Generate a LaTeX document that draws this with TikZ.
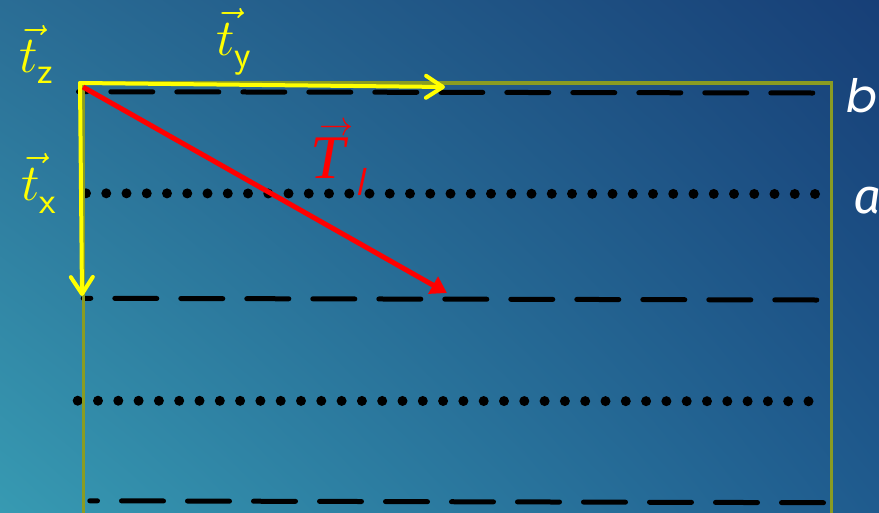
\RequirePackage{fix-cm}
\documentclass[tikz,border=0pt]{standalone}
\usepackage{fontspec}
\newfontfamily\gothic{Poppins}
\newfontfamily\firaf{Fira Sans}
\newfontfamily\timesf{Liberation Serif}
\usetikzlibrary{arrows.meta,shadings}
\definecolor{bgUL}{HTML}{2A6D95}
\definecolor{bgUR}{HTML}{173F77}
\definecolor{bgLL}{HTML}{379AB2}
\definecolor{bgLR}{HTML}{1F5B8E}
\definecolor{framegreen}{HTML}{8A9C22}
\definecolor{tyellow}{HTML}{FFFF00}
\definecolor{tred}{HTML}{FF0000}
\begin{document}
\begin{tikzpicture}[x=1pt,y=-1pt,
  dashline/.style={draw=black,line width=5pt,line cap=round,dash pattern=on 42pt off 24pt},
  dotline/.style={draw=black,line width=10pt,line cap=round},
  frame/.style={draw=framegreen,line width=3.5pt},
  yarrow/.style={draw=tyellow,line width=4pt,line cap=round,-{Straight Barb[length=17pt,width=22pt,round]}},
  rarrow/.style={draw=tred,line width=5pt,-{Triangle[length=16pt,width=19pt]}},
  ylab/.style={text=tyellow,inner sep=0pt,anchor=base west},
  wlab/.style={text=white,inner sep=0pt,anchor=base west}]
\clip (0,0) rectangle (879,512);
\shade[upper left=bgUL,upper right=bgUR,lower left=bgLL,lower right=bgLR] (0,0) rectangle (879,512);
% dashed lines
\draw[dashline,dash phase=33.7pt] (78.5,91.7) -- (813,93);
\draw[dashline,dash phase=34.4pt] (83.2,298.3) -- (817,300);
\draw[dashline,dash phase=34.3pt] (89.8,500.8) -- (823.5,502.7);
% dotted lines
\draw[dotline,dash pattern=on 0pt off 20.25pt] (86,193.3) -- (816,194);
\draw[dotline,dash pattern=on 0pt off 20.3pt] (77.7,400.7) -- (809.5,401.3);
% frame
\draw[frame] (83.5,83) rectangle (831.5,540);
% vectors
\coordinate (O) at (80,83);
\coordinate (tyTip) at (445,87);
\coordinate (txTip) at (82,296);
\coordinate (Rs) at (83,87);
\coordinate (Rt) at (447,293);
\draw[yarrow] (O) -- (tyTip);
\draw[yarrow] (O) -- (txTip);
\draw[rarrow] (Rs) -- (Rt);
% labels
\node[ylab] (tz) at (19,72) {\fontsize{52}{52}\selectfont$\vec{t}$\raisebox{-11pt}{\fontsize{38}{38}\selectfont\sffamily z}};
\node[ylab] (ty) at (216,55) {\fontsize{52}{52}\selectfont$\vec{t}$\raisebox{-12pt}{\fontsize{38}{38}\selectfont\sffamily y}};
\node[ylab] (tx) at (21,200) {\fontsize{52}{52}\selectfont$\vec{t}$\raisebox{-13pt}{\fontsize{38}{38}\selectfont\sffamily x}};
\node[text=tred,inner sep=0pt,anchor=base west] (Tl) at (310,178) {\rlap{\hspace{9pt}\raisebox{42.5pt}{\fontsize{34}{34}\selectfont$\rightarrow$}}{\fontsize{62}{62}\selectfont\timesf\itshape T}\hspace{11pt}\raisebox{-17pt}{\fontsize{39}{39}\selectfont\sffamily\itshape l}};
\node[wlab,font=\gothic\itshape\fontsize{46}{46}\selectfont] (b) at (846,112) {b};
\node[wlab,font=\firaf\itshape\fontsize{49}{49}\selectfont] (a) at (853,213) {a};
\end{tikzpicture}
\end{document}
